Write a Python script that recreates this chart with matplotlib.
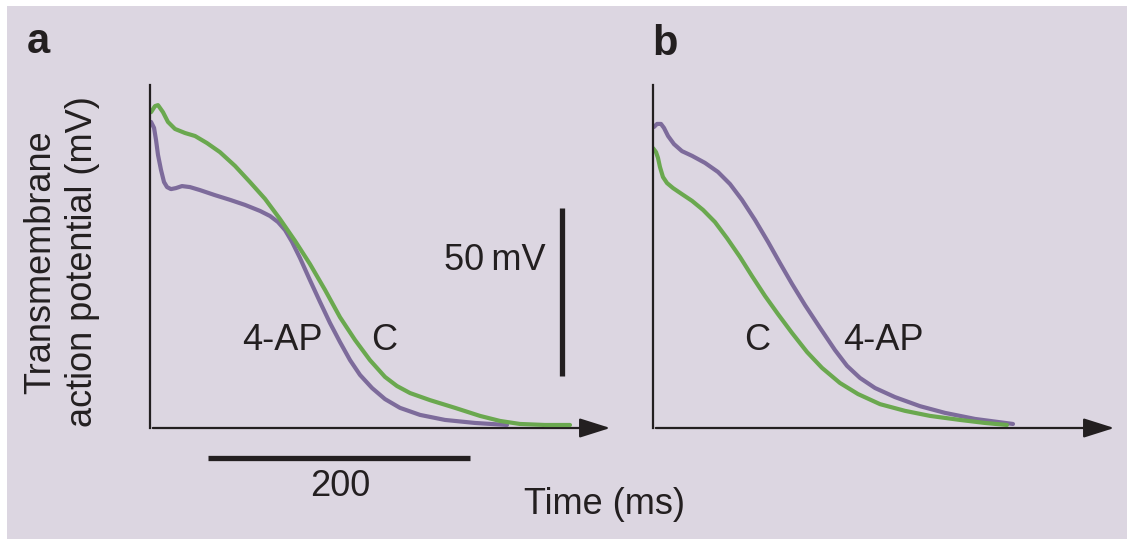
import matplotlib.pyplot as plt
from matplotlib.patches import Rectangle, FancyArrowPatch

plt.rcParams['font.family'] = ['Liberation Sans', 'DejaVu Sans']

# 面板a：对照(C)与4-AP，时间(ms)与跨膜电位(mV)
a_c_t = [0.8, 3.8, 6.1, 9.9, 13.7, 19.1, 26.7, 34.4, 43.5, 53.4, 64.9, 76.3, 87.8, 99.2, 110.7, 122.1,
         133.6, 145.0, 156.5, 167.9, 179.4, 188.5, 198.5, 213.7, 232.8, 251.9, 267.2, 282.4, 301.5, 320.6]
a_c_v = [4.0, 5.8, 6.1, 4.0, 1.1, -1.0, -2.2, -3.1, -5.2, -7.9, -12.0, -16.8, -21.8, -27.8, -34.3, -41.2,
         -48.9, -57.0, -63.8, -69.8, -74.8, -77.5, -79.6, -81.7, -84.0, -86.4, -87.9, -88.8, -89.1, -89.1]
a_ap_t = [0.8, 3.1, 4.6, 6.1, 8.4, 10.7, 13.0, 16.0, 19.8, 24.4, 30.5, 38.2, 49.6, 61.1, 72.5, 84.0, 91.6,
          97.7, 103.1, 108.4, 114.5, 122.1, 129.8, 137.4, 145.0, 152.7, 160.3, 169.5, 179.4, 190.8, 206.1,
          225.2, 248.1, 272.5]
a_ap_v = [1.1, -0.7, -4.3, -8.7, -13.2, -16.8, -18.3, -18.9, -18.6, -18.0, -18.3, -19.2, -20.7, -22.1, -23.6,
          -25.4, -26.9, -28.7, -31.1, -34.6, -39.4, -46.0, -52.5, -58.75, -64.4, -69.8, -74.2, -78.1, -81.4,
          -84.0, -86.1, -87.6, -88.5, -89.1]

# 面板b
b_c_t = [0.0, 2.3, 3.8, 5.3, 7.6, 10.7, 15.3, 22.1, 29.8, 38.2, 47.3, 56.5, 66.4, 75.6, 85.5, 95.4, 106.1,
         117.6, 129.0, 142.7, 156.5, 173.3, 192.4, 211.5, 234.4, 253.4, 270.2]
b_c_v = [-6.7, -7.9, -9.6, -12.3, -15.3, -17.1, -18.6, -20.4, -22.4, -25.1, -28.7, -33.5, -39.1, -44.8, -50.7,
         -56.1, -61.7, -67.4, -72.1, -76.6, -79.9, -82.9, -84.9, -86.4, -87.6, -88.5, -89.1]
b_ap_t = [0.8, 3.1, 6.1, 8.4, 11.5, 16.0, 22.1, 29.8, 39.7, 49.6, 58.8, 67.9, 77.9, 87.8, 96.9, 106.1, 116.0,
          127.5, 138.9, 148.1, 158.0, 169.5, 184.7, 203.8, 222.9, 245.8, 274.8]
b_ap_v = [-0.4, 0.5, 0.5, -0.7, -3.1, -5.5, -7.6, -9.0, -11.1, -13.8, -17.4, -22.1, -28.1, -34.6, -40.9, -47.1,
          -53.4, -60.2, -66.8, -71.5, -75.1, -78.1, -80.8, -83.5, -85.5, -87.3, -88.8]

green = '#6aa84f'
purple = '#7d6b9b'
ink = '#231f20'
bg = '#dcd6e1'

W, H = 1127, 539
fig = plt.figure(figsize=(W / 100, H / 100), dpi=100)
fig.patch.set_facecolor('white')
fig.patches.append(Rectangle((7 / W, 0), 1 - 7 / W, 1 - 6 / H, transform=fig.transFigure,
                             facecolor=bg, edgecolor='none', zorder=-10))

px_ms = 262 / 200.0
px_mv = 168 / 50.0
v_min = -90


def make_axes(x0, y0, x1, y1):
    # 像素位置 -> figure 坐标
    ax = fig.add_axes([x0 / W, 1 - y0 / H, (x1 - x0) / W, (y0 - y1) / H])
    ax.set_xlim(0, (x1 - x0) / px_ms)
    ax.set_ylim(v_min, v_min + (y0 - y1) / px_mv)
    ax.patch.set_alpha(0)
    for s in ['top', 'right', 'bottom']:
        ax.spines[s].set_visible(False)
    ax.spines['left'].set_linewidth(1.6)
    ax.spines['left'].set_color(ink)
    ax.set_xticks([])
    ax.set_yticks([])
    arr = FancyArrowPatch((0, 0), (1, 0), transform=ax.transAxes,
                          arrowstyle='-|>,head_length=0.95,head_width=0.3',
                          mutation_scale=20, lw=1.6, color=ink, clip_on=False)
    ax.add_patch(arr)
    return ax


ax1 = make_axes(150, 428, 613, 85)
ax2 = make_axes(653, 428, 1117, 85)

lw = 3.0
style = dict(lw=lw, solid_joinstyle='round', solid_capstyle='round')
ax1.plot(a_ap_t, a_ap_v, color=purple, **style)
ax1.plot(a_c_t, a_c_v, color=green, **style)
ax2.plot(b_ap_t, b_ap_v, color=purple, **style)
ax2.plot(b_c_t, b_c_v, color=green, **style)

fs = 26
ax1.text(100.8, -64.1, '4-AP', fontsize=fs, color=ink, ha='center', va='center')
ax1.text(178.6, -64.1, 'C', fontsize=fs, color=ink, ha='center', va='center')
ax2.text(79.4, -64.1, 'C', fontsize=fs, color=ink, ha='center', va='center')
ax2.text(175.6, -64.1, '4-AP', fontsize=fs, color=ink, ha='center', va='center')

# 比例尺
ax1.plot([44, 244], [-98.9, -98.9], color=ink, lw=3.8, clip_on=False, solid_capstyle='butt')
ax1.text(145, -107.5, '200', fontsize=fs, color=ink, ha='center', va='center')
ax1.plot([314.5, 314.5], [-74.5, -24.5], color=ink, lw=3.8, clip_on=False, solid_capstyle='butt')
ax1.text(263.4, -40, '50\u2009mV', fontsize=fs, color=ink, ha='center', va='center')

fig.text(38 / W, 1 - 42 / H, 'a', fontsize=30, fontweight='bold', color=ink, ha='center', va='center')
fig.text(665 / W, 1 - 44 / H, 'b', fontsize=30, fontweight='bold', color=ink, ha='center', va='center')
fig.text(605 / W, 1 - 505 / H, 'Time (ms)', fontsize=fs, color=ink, ha='center', va='center')
fig.text(62 / W, 1 - 262 / H, 'Transmembrane\naction potential (mV)', fontsize=fs, color=ink,
         ha='center', va='center', rotation=90, multialignment='center', linespacing=1.25)

fig.savefig('out.png', dpi=100, facecolor=fig.get_facecolor())
